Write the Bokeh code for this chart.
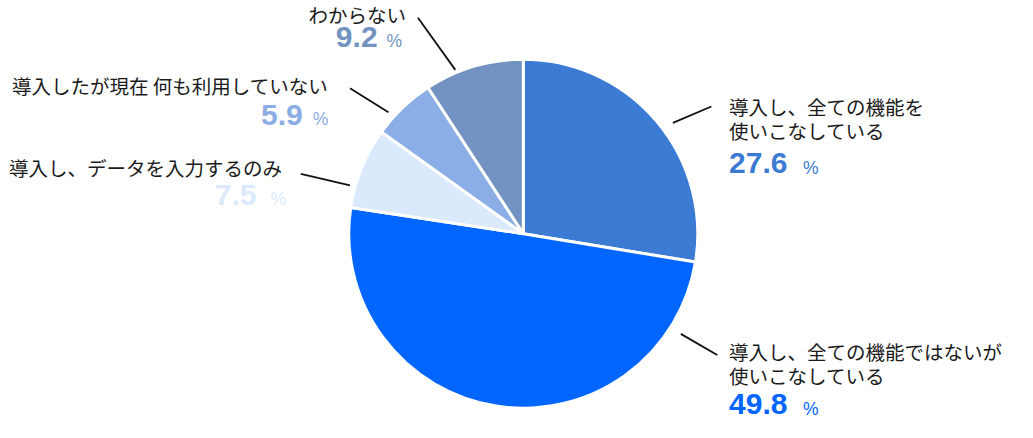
import math
from bokeh.plotting import figure
from bokeh.models import Range1d, ColumnDataSource
from bokeh.core.properties import value
from bokeh.embed import file_html
from bokeh.resources import INLINE

# ---- data ----
labels = [
    "導入し、全ての機能を\n使いこなしている",
    "導入し、全ての機能ではないが\n使いこなしている",
    "導入し、データを入力するのみ",
    "導入したが現在 何も利用していない",
    "わからない",
]
values = [27.6, 49.8, 7.5, 5.9, 9.2]
colors = ["#3B7BD4", "#0066FF", "#DBE9FD", "#8AAEE5", "#7293C2"]

# ---- layout (reference-image pixel coordinates, 1033 x 438) ----
REF_W, REF_H = 1033, 438
W, H = 1017, 422
cx, cy = 531, 242
rad_px = 173
side = ["right", "right", "left", "left", "left"]
text_x = [740, 740, 286, 333, 412]          # left edge (right side) / right edge (left side)
text_y = [110, 364, 173.5, 88.5, 14.5]       # middle of first line
line_gap = 25
num_base = [180, 430, 213, 130, 49]          # baseline of percentage number
num_x = [740, 740, 260, 307, 383]
pct_x = [815, 815, 290, 333, 408]
lead = [  # x0, y0, x1, y1
    (683, 127, 722, 110),
    (691, 346, 728, 368),
    (305, 180, 355, 192),
    (355, 91, 394, 116),
    (424, 18, 462, 72),
]


def Y(y):
    return REF_H - y


p = figure(width=W, height=H, x_range=Range1d(0, REF_W), y_range=Range1d(0, REF_H),
           output_backend="svg", toolbar_location=None, min_border=0)
p.axis.visible = False
p.grid.visible = False
p.outline_line_color = None
p.background_fill_color = "white"
p.border_fill_color = "white"

# wedges, clockwise from 12 o'clock
total = sum(values)
starts, ends = [], []
cum = 0.0
for v in values:
    ends.append(math.pi / 2 - cum / total * 2 * math.pi)
    starts.append(math.pi / 2 - (cum + v) / total * 2 * math.pi)
    cum += v
src = ColumnDataSource(dict(start=starts, end=ends, color=colors))
p.wedge(x=cx, y=Y(cy), radius=rad_px + 1.5, radius_units="screen",
        start_angle="start", end_angle="end",
        fill_color="color", line_color="white", line_width=3, source=src)

# leader lines
p.segment(x0=[l[0] for l in lead], y0=[Y(l[1]) for l in lead],
          x1=[l[2] for l in lead], y1=[Y(l[3]) for l in lead],
          line_color="#111111", line_width=1.8)

jp = value("Noto Sans CJK JP")
num_font = value("Liberation Sans")
for i, lab in enumerate(labels):
    align = "left" if side[i] == "right" else "right"
    for k, line in enumerate(lab.split("\n")):
        p.text(x=[text_x[i]], y=[Y(text_y[i] + k * line_gap)], text=[line],
               text_font=jp, text_font_size="19.5px", text_align=align,
               text_baseline="middle", text_color="#1a1a1a")
    p.text(x=[num_x[i]], y=[Y(num_base[i] - 11)], text=[f"{values[i]:.1f}"],
           text_font=num_font, text_font_size="30px", text_font_style="bold",
           text_align=align, text_baseline="middle", text_color=colors[i])
    p.text(x=[pct_x[i]], y=[Y(num_base[i] - 6.5)], text=["%"],
           text_font=num_font, text_font_size="17.5px",
           text_align=align, text_baseline="middle", text_color=colors[i])

open("out.html", "w").write(file_html(p, INLINE))
